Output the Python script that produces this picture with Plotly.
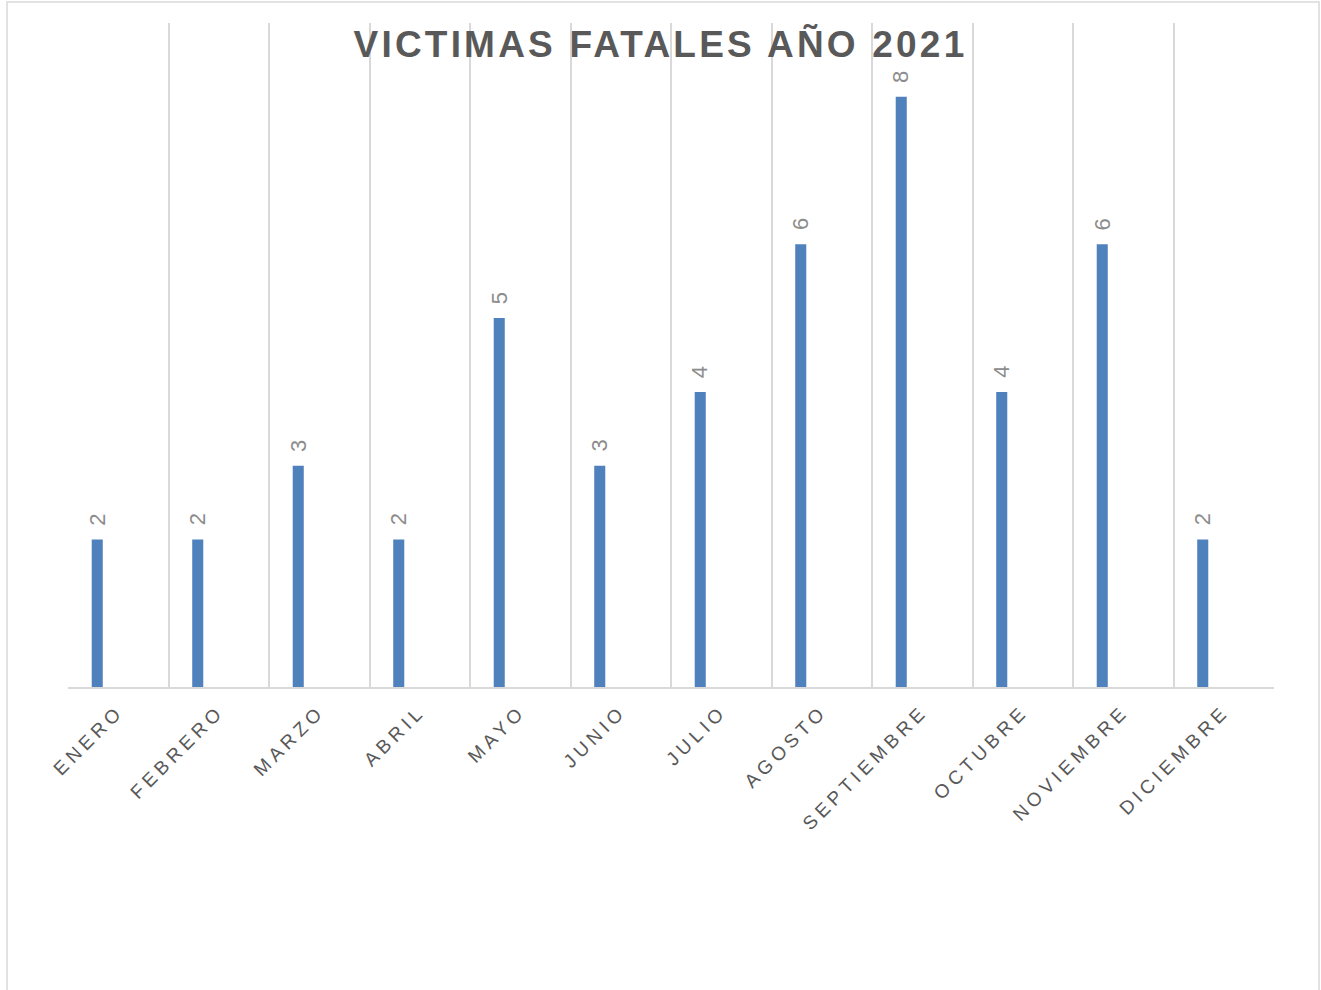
import plotly.graph_objects as go

months = ["ENERO", "FEBRERO", "MARZO", "ABRIL", "MAYO", "JUNIO", "JULIO",
          "AGOSTO", "SEPTIEMBRE", "OCTUBRE", "NOVIEMBRE", "DICIEMBRE"]
victimas = [2, 2, 3, 2, 5, 3, 4, 6, 8, 4, 6, 2]
title_text = "VICTIMAS FATALES AÑO 2021"

W, H = 1321, 990
L, R, T, B = 68, 47, 23, 303
pw, ph = W - L - R, H - T - B

BAR_W = 0.11
BAR_OFF = -0.264
CAT_PX = pw / 12.0

fig = go.Figure()
fig.add_trace(go.Bar(
    x=months, y=victimas,
    marker=dict(color="#4f81bd", line=dict(width=0)),
    width=BAR_W, offset=BAR_OFF,
    hoverinfo="x+y",
))

# data labels (rotated) above each bar
for m, v in zip(months, victimas):
    fig.add_annotation(
        x=m, y=v, xref="x", yref="y", text=str(v), showarrow=False,
        textangle=-90, xanchor="center", yanchor="bottom",
        xshift=(BAR_OFF + BAR_W / 2) * CAT_PX, yshift=12,
        font=dict(family="Liberation Sans, Arial", size=22, color="#8c8c8c"),
    )

# outer chart border
fig.add_shape(type="rect", xref="paper", yref="paper",
              x0=(7 - L) / pw, x1=(1319 - L) / pw,
              y0=-(1000 - (H - B)) / ph,
              y1=(H - B - 2) / ph,
              line=dict(color="#d9d9d9", width=1.5), layer="below")

fig.update_layout(
    width=W, height=H,
    margin=dict(l=L, r=R, t=T, b=B),
    paper_bgcolor="white", plot_bgcolor="white",
    showlegend=False,
    title=dict(text="<b>" + title_text + "</b>", x=0.5, xref="container",
               y=1 - 44 / H, yref="container", yanchor="middle", xanchor="center",
               font=dict(family="Liberation Sans, Arial", size=37, color="#595959")),
    xaxis=dict(range=[-0.5, 11.5], tickson="boundaries", showgrid=True,
               gridcolor="#d9d9d9", gridwidth=1.5, showline=True,
               linecolor="#d9d9d9", linewidth=1.5, ticks="", tickangle=-45,
               ticklabelstandoff=4,
               tickfont=dict(family="Liberation Sans, Arial", size=19, color="#595959")),
    yaxis=dict(range=[0, 9], showgrid=False, showticklabels=False, zeroline=False,
               showline=False),
)

post = """
document.body.style.margin = '0';
document.body.style.padding = '0';
var gd = document.getElementById('{plot_id}');
function fixSpacing(){
  gd.querySelectorAll('.xtick text').forEach(function(t){ t.style.letterSpacing='4.5px'; });
  gd.querySelectorAll('.gtitle').forEach(function(t){ t.style.letterSpacing='3.2px'; });
}
fixSpacing();
gd.on('plotly_afterplot', fixSpacing);
"""
fig.write_html("out.html", post_script=post, config={"displayModeBar": False})
